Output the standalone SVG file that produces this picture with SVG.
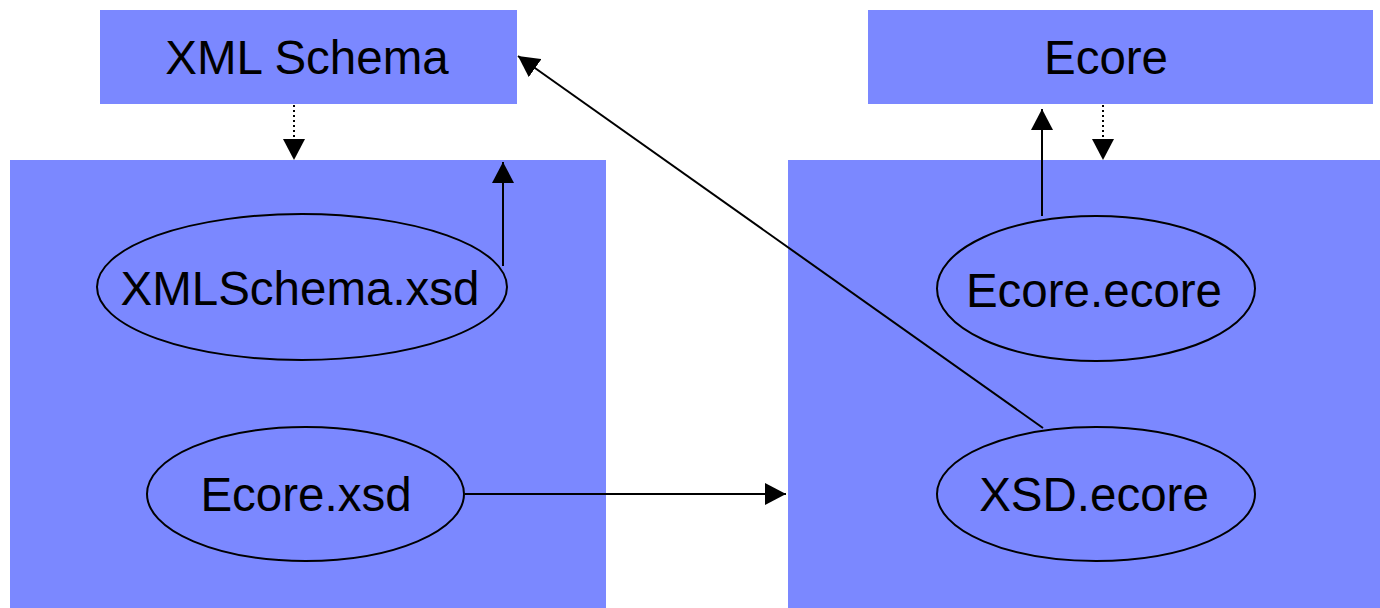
<svg xmlns="http://www.w3.org/2000/svg" width="1380" height="608" viewBox="0 0 1380 608">
<style>
.box{fill:#7B88FF;stroke:none}
.ell{fill:#7B88FF;stroke:#000;stroke-width:2}
.lbl{font-family:"Liberation Sans",Arial,sans-serif;font-size:47.5px;fill:#000;text-anchor:middle}
.solid{stroke:#000;stroke-width:2;fill:none;marker-end:url(#ah)}
.dot{stroke:#000;stroke-width:2;stroke-dasharray:2 3;fill:none;marker-end:url(#ah)}
</style>
<defs>
<marker id="ah" viewBox="0 0 21 22" markerWidth="21" markerHeight="22" refX="21" refY="11" orient="auto" markerUnits="userSpaceOnUse">
<path d="M0,0 L21,11 L0,22 Z" fill="#000"/>
</marker>
</defs>
<rect width="1380" height="608" fill="#fff"/>
<g id="left-container"><rect class="box" x="10" y="160" width="596" height="448"/></g>
<g id="right-container"><rect class="box" x="788" y="160" width="592" height="448"/></g>
<g id="xml-schema"><rect class="box" x="100" y="10" width="417" height="94"/><text class="lbl" x="307" y="74">XML Schema</text></g>
<g id="ecore"><rect class="box" x="868" y="10" width="505" height="94"/><text class="lbl" x="1106" y="74">Ecore</text></g>
<g id="xmlschema-xsd"><ellipse class="ell" cx="302" cy="287" rx="205" ry="73"/><text class="lbl" x="300" y="305">XMLSchema.xsd</text></g>
<g id="ecore-xsd"><ellipse class="ell" cx="305.5" cy="494" rx="158.5" ry="67"/><text class="lbl" x="306" y="511">Ecore.xsd</text></g>
<g id="ecore-ecore"><ellipse class="ell" cx="1096" cy="288.5" rx="159" ry="72.5"/><text class="lbl" x="1094" y="307">Ecore.ecore</text></g>
<g id="xsd-ecore"><ellipse class="ell" cx="1096" cy="494" rx="159" ry="67"/><text class="lbl" x="1094" y="511">XSD.ecore</text></g>
<g id="connectors">
<line class="dot" x1="294" y1="105" x2="294" y2="160"/>
<line class="dot" x1="1103" y1="105" x2="1103" y2="160"/>
<line class="solid" x1="503" y1="266" x2="503" y2="162"/>
<line class="solid" x1="1042" y1="216" x2="1042" y2="109"/>
<line class="solid" x1="465" y1="494" x2="786" y2="494"/>
<line class="solid" x1="1043" y1="428" x2="518" y2="56"/>
</g>
</svg>
